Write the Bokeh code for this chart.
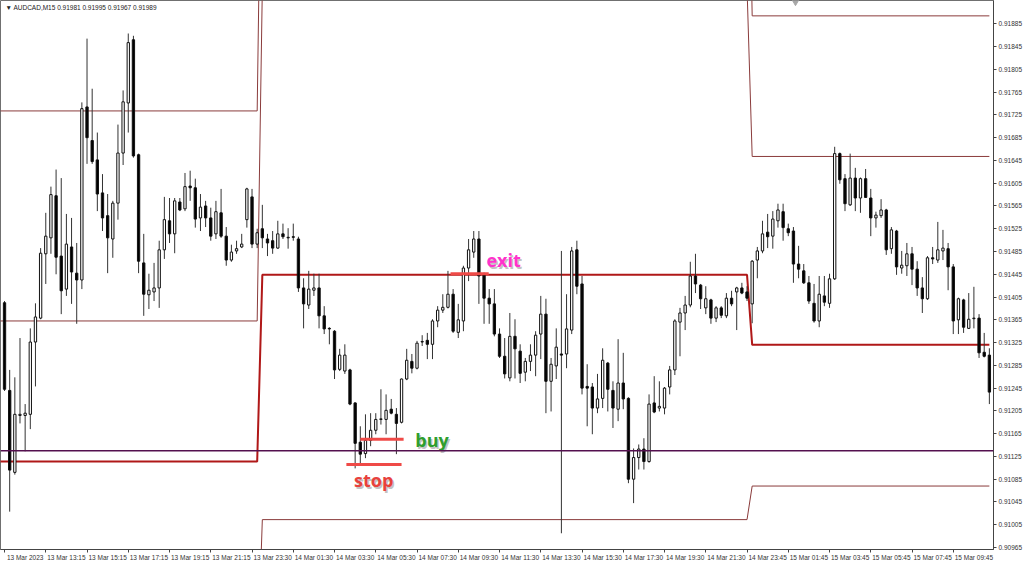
from bokeh.plotting import figure
from bokeh.models import FixedTicker, PrintfTickFormatter, Span, Range1d
from bokeh.embed import file_html
from bokeh.resources import INLINE
from bokeh.core.properties import value

# ---------------- data ----------------
header_text = "\u25BC AUDCAD,M15  0.91981 0.91995 0.91967 0.91989"

bar_open = [
    0.91395, 0.91241, 0.91097, 0.91197, 0.91197, 0.91199, 0.91326, 0.91368, 0.91481, 0.91509,
    0.91583, 0.91477, 0.91419, 0.91493, 0.91447, 0.91435, 0.91739, 0.91680, 0.91646, 0.91588,
    0.91548, 0.91507, 0.91570, 0.91658, 0.91746, 0.91857, 0.91655, 0.91465, 0.91409, 0.91414,
    0.91421, 0.91488, 0.91539, 0.91516, 0.91572, 0.91560, 0.91600, 0.91597, 0.91544, 0.91565,
    0.91544, 0.91516, 0.91553, 0.91512, 0.91470, 0.91486, 0.91493, 0.91541, 0.91581, 0.91498,
    0.91525, 0.91507, 0.91504, 0.91491, 0.91516, 0.91510, 0.91511, 0.91507, 0.91421, 0.91391,
    0.91417, 0.91421, 0.91372, 0.91350, 0.91345, 0.91278, 0.91275, 0.91277, 0.91219, 0.91150,
    0.91130, 0.91153, 0.91171, 0.91190, 0.91190, 0.91208, 0.91199, 0.91185, 0.91261, 0.91292,
    0.91280, 0.91326, 0.91329, 0.91322, 0.91363, 0.91382, 0.91387, 0.91410, 0.91343, 0.91363,
    0.91456, 0.91484, 0.91507, 0.91446, 0.91403, 0.91393, 0.91340, 0.91301, 0.91263, 0.91336,
    0.91310, 0.91273, 0.91292, 0.91303, 0.91340, 0.91375, 0.91257, 0.91284, 0.91305, 0.91305,
    0.91347, 0.91488, 0.91428, 0.91248, 0.91247, 0.91210, 0.91227, 0.91289, 0.91241, 0.91208,
    0.91254, 0.91227, 0.91085, 0.91123, 0.91138, 0.91116, 0.91219, 0.91210, 0.91210, 0.91247,
    0.91277, 0.91361, 0.91377, 0.91391, 0.91442, 0.91426, 0.91386, 0.91400, 0.91368, 0.91386,
    0.91372, 0.91403, 0.91414, 0.91421, 0.91414, 0.91393, 0.91470, 0.91486, 0.91519, 0.91512,
    0.91539, 0.91555, 0.91525, 0.91521, 0.91463, 0.91451, 0.91430, 0.91394, 0.91363, 0.91407,
    0.91394, 0.91437, 0.91657, 0.91613, 0.91567, 0.91614, 0.91579, 0.91613, 0.91579, 0.91544,
    0.91548, 0.91558, 0.91490, 0.91521, 0.91456, 0.91460, 0.91481, 0.91454, 0.91421, 0.91402,
    0.91474, 0.91470, 0.91486, 0.91490, 0.91458, 0.91365, 0.91400, 0.91350, 0.91367, 0.91368,
    0.91308, 0.91303,
]
bar_high = [
    0.91398, 0.91277, 0.91264, 0.91333, 0.91217, 0.91350, 0.91394, 0.91491, 0.91553, 0.91599,
    0.91629, 0.91614, 0.91551, 0.91544, 0.91500, 0.91747, 0.91859, 0.91771, 0.91694, 0.91621,
    0.91586, 0.91574, 0.91708, 0.91768, 0.91868, 0.91864, 0.91657, 0.91516, 0.91446, 0.91465,
    0.91504, 0.91581, 0.91579, 0.91579, 0.91579, 0.91623, 0.91627, 0.91613, 0.91586, 0.91574,
    0.91562, 0.91574, 0.91595, 0.91528, 0.91497, 0.91504, 0.91516, 0.91597, 0.91595, 0.91525,
    0.91567, 0.91516, 0.91521, 0.91539, 0.91534, 0.91526, 0.91534, 0.91511, 0.91438, 0.91451,
    0.91446, 0.91446, 0.91389, 0.91352, 0.91347, 0.91314, 0.91322, 0.91279, 0.91220, 0.91178,
    0.91199, 0.91201, 0.91201, 0.91243, 0.91234, 0.91226, 0.91210, 0.91262, 0.91314, 0.91305,
    0.91328, 0.91338, 0.91342, 0.91366, 0.91389, 0.91410, 0.91451, 0.91419, 0.91393, 0.91460,
    0.91507, 0.91521, 0.91521, 0.91448, 0.91419, 0.91419, 0.91350, 0.91333, 0.91377, 0.91366,
    0.91322, 0.91298, 0.91322, 0.91345, 0.91407, 0.91402, 0.91298, 0.91350, 0.91486, 0.91410,
    0.91493, 0.91504, 0.91442, 0.91287, 0.91254, 0.91270, 0.91315, 0.91291, 0.91257, 0.91331,
    0.91307, 0.91229, 0.91139, 0.91146, 0.91157, 0.91234, 0.91266, 0.91257, 0.91247, 0.91284,
    0.91366, 0.91386, 0.91407, 0.91467, 0.91481, 0.91428, 0.91424, 0.91402, 0.91389, 0.91389,
    0.91412, 0.91416, 0.91423, 0.91430, 0.91424, 0.91470, 0.91493, 0.91539, 0.91551, 0.91556,
    0.91569, 0.91569, 0.91534, 0.91528, 0.91495, 0.91463, 0.91442, 0.91428, 0.91442, 0.91442,
    0.91446, 0.91669, 0.91659, 0.91621, 0.91657, 0.91632, 0.91615, 0.91630, 0.91595, 0.91555,
    0.91577, 0.91560, 0.91528, 0.91523, 0.91486, 0.91500, 0.91493, 0.91468, 0.91440, 0.91477,
    0.91493, 0.91537, 0.91523, 0.91500, 0.91463, 0.91404, 0.91402, 0.91412, 0.91423, 0.91375,
    0.91342, 0.91315,
]
bar_low = [
    0.91240, 0.91028, 0.91093, 0.91183, 0.91134, 0.91173, 0.91248, 0.91366, 0.91428, 0.91481,
    0.91445, 0.91375, 0.91407, 0.91393, 0.91358, 0.91419, 0.91639, 0.91639, 0.91556, 0.91521,
    0.91447, 0.91474, 0.91541, 0.91637, 0.91694, 0.91650, 0.91447, 0.91372, 0.91384, 0.91398,
    0.91386, 0.91472, 0.91500, 0.91482, 0.91556, 0.91556, 0.91574, 0.91527, 0.91521, 0.91528,
    0.91504, 0.91507, 0.91509, 0.91460, 0.91467, 0.91481, 0.91491, 0.91527, 0.91491, 0.91491,
    0.91491, 0.91477, 0.91481, 0.91490, 0.91507, 0.91490, 0.91504, 0.91414, 0.91350, 0.91384,
    0.91407, 0.91350, 0.91340, 0.91322, 0.91261, 0.91275, 0.91270, 0.91215, 0.91104, 0.91111,
    0.91122, 0.91143, 0.91164, 0.91181, 0.91164, 0.91199, 0.91129, 0.91183, 0.91259, 0.91271,
    0.91278, 0.91319, 0.91296, 0.91296, 0.91352, 0.91377, 0.91385, 0.91342, 0.91333, 0.91345,
    0.91433, 0.91474, 0.91393, 0.91358, 0.91358, 0.91336, 0.91298, 0.91262, 0.91257, 0.91262,
    0.91254, 0.91257, 0.91275, 0.91266, 0.91296, 0.91201, 0.91204, 0.91261, 0.90990, 0.91280,
    0.91340, 0.91410, 0.91234, 0.91178, 0.91164, 0.91201, 0.91210, 0.91204, 0.91175, 0.91187,
    0.91208, 0.91078, 0.91043, 0.91102, 0.91102, 0.91114, 0.91201, 0.91204, 0.91199, 0.91234,
    0.91268, 0.91301, 0.91347, 0.91387, 0.91412, 0.91384, 0.91375, 0.91358, 0.91361, 0.91368,
    0.91368, 0.91389, 0.91347, 0.91410, 0.91398, 0.91359, 0.91438, 0.91482, 0.91491, 0.91490,
    0.91527, 0.91504, 0.91512, 0.91430, 0.91438, 0.91428, 0.91393, 0.91360, 0.91352, 0.91389,
    0.91386, 0.91435, 0.91604, 0.91556, 0.91565, 0.91556, 0.91553, 0.91579, 0.91512, 0.91527,
    0.91544, 0.91479, 0.91481, 0.91444, 0.91446, 0.91442, 0.91426, 0.91407, 0.91377, 0.91400,
    0.91463, 0.91465, 0.91470, 0.91417, 0.91340, 0.91340, 0.91342, 0.91349, 0.91350, 0.91298,
    0.91299, 0.91217,
]
bar_close = [
    0.91243, 0.91101, 0.91199, 0.91199, 0.91201, 0.91326, 0.91370, 0.91482, 0.91512, 0.91585,
    0.91475, 0.91416, 0.91498, 0.91449, 0.91435, 0.91736, 0.91685, 0.91643, 0.91586, 0.91544,
    0.91509, 0.91570, 0.91658, 0.91748, 0.91852, 0.91653, 0.91468, 0.91410, 0.91417, 0.91421,
    0.91488, 0.91541, 0.91516, 0.91574, 0.91558, 0.91599, 0.91597, 0.91542, 0.91563, 0.91544,
    0.91512, 0.91555, 0.91512, 0.91470, 0.91484, 0.91490, 0.91498, 0.91595, 0.91498, 0.91518,
    0.91509, 0.91500, 0.91491, 0.91516, 0.91511, 0.91509, 0.91510, 0.91421, 0.91393, 0.91419,
    0.91421, 0.91372, 0.91349, 0.91349, 0.91277, 0.91303, 0.91303, 0.91217, 0.91148, 0.91129,
    0.91153, 0.91171, 0.91190, 0.91191, 0.91206, 0.91201, 0.91183, 0.91261, 0.91294, 0.91280,
    0.91324, 0.91327, 0.91322, 0.91363, 0.91382, 0.91387, 0.91410, 0.91345, 0.91365, 0.91456,
    0.91488, 0.91507, 0.91442, 0.91403, 0.91393, 0.91340, 0.91301, 0.91270, 0.91336, 0.91314,
    0.91271, 0.91292, 0.91303, 0.91338, 0.91375, 0.91257, 0.91287, 0.91317, 0.91303, 0.91349,
    0.91486, 0.91424, 0.91245, 0.91245, 0.91210, 0.91226, 0.91294, 0.91243, 0.91210, 0.91254,
    0.91226, 0.91085, 0.91123, 0.91138, 0.91116, 0.91217, 0.91203, 0.91213, 0.91245, 0.91277,
    0.91363, 0.91377, 0.91391, 0.91442, 0.91428, 0.91402, 0.91402, 0.91368, 0.91386, 0.91373,
    0.91403, 0.91393, 0.91421, 0.91412, 0.91403, 0.91468, 0.91486, 0.91516, 0.91511, 0.91542,
    0.91558, 0.91527, 0.91518, 0.91463, 0.91454, 0.91430, 0.91398, 0.91363, 0.91410, 0.91396,
    0.91437, 0.91657, 0.91611, 0.91569, 0.91614, 0.91579, 0.91613, 0.91580, 0.91544, 0.91549,
    0.91558, 0.91488, 0.91523, 0.91458, 0.91461, 0.91481, 0.91454, 0.91421, 0.91402, 0.91474,
    0.91472, 0.91488, 0.91491, 0.91458, 0.91363, 0.91402, 0.91352, 0.91366, 0.91368, 0.91307,
    0.91301, 0.91238,
]

time_tick_bars = [0, 8, 16, 24, 32, 40, 48, 56, 64, 72, 80, 88, 96, 104, 112, 120,
                  128, 136, 144, 152, 160, 168, 176, 184]
time_tick_labels = [
    "13 Mar 2023", "13 Mar 13:15", "13 Mar 15:15", "13 Mar 17:15", "13 Mar 19:15",
    "13 Mar 21:15", "13 Mar 23:30", "14 Mar 01:30", "14 Mar 03:30", "14 Mar 05:30",
    "14 Mar 07:30", "14 Mar 09:30", "14 Mar 11:30", "14 Mar 13:30", "14 Mar 15:30",
    "14 Mar 17:30", "14 Mar 19:30", "14 Mar 21:30", "14 Mar 23:45", "15 Mar 01:45",
    "15 Mar 03:45", "15 Mar 05:45", "15 Mar 07:45", "15 Mar 09:45",
]
price_ticks = [
    0.90965, 0.91005, 0.91045, 0.91085, 0.91125, 0.91165, 0.91205, 0.91245,
    0.91285, 0.91325, 0.91365, 0.91405, 0.91445, 0.91485, 0.91525, 0.91565,
    0.91605, 0.91645, 0.91685, 0.91725, 0.91765, 0.91805, 0.91845, 0.91885,
]

# daily pivot levels (13, 14, 15 Mar) and the first bar of each day
day_first_bar = [0, 50, 145]
pivot_R2 = [0.91732, 0.92378, 0.91899]
pivot_R1 = [0.91363, 0.91948, 0.91652]
pivot_P = [0.91116, 0.91444, 0.91321]
pivot_S1 = [0.90747, 0.91014, 0.91073]
pivot_S2 = [0.90500, 0.90510, 0.90743]

hline_price = 0.91135
shift_marker_bar = 153.4

# trade annotations: (bar_from, bar_to, price)
exit_mark = (86.5, 93.9, 0.91446)
buy_mark = (69.0, 77.4, 0.91155)
stop_mark = (66.3, 77.0, 0.91111)

# ---------------- figure ----------------
n_bars = len(bar_open)
idx = list(range(n_bars))

W, H = 1024, 563
Y_TOP = 0.91926
p = figure(width=W, height=H, output_backend="svg", toolbar_location=None,
           x_range=Range1d(-0.78, 191.8), y_range=Range1d(0.909615, Y_TOP),
           y_axis_location="right",
           min_border_left=0, min_border_top=0, min_border_right=0, min_border_bottom=0)
p.grid.visible = False
p.background_fill_color = "white"
p.border_fill_color = "white"
p.outline_line_color = "#707070"
p.outline_line_width = 1

AX_FONT = "Liberation Sans"
AX_SIZE = "6.5px"

ya = p.yaxis[0]
ya.ticker = FixedTicker(ticks=price_ticks)
ya.formatter = PrintfTickFormatter(format="%.5f")
ya.major_label_text_font = AX_FONT
ya.major_label_text_font_size = AX_SIZE
ya.major_label_text_color = "#333333"
ya.major_tick_out = 3
ya.major_tick_in = 0
ya.minor_tick_line_color = None
ya.axis_line_color = "#444444"
ya.major_tick_line_color = "#444444"
ya.major_label_standoff = 2

label_shift = 4
xa = p.xaxis[0]
xa.ticker = FixedTicker(ticks=[b + label_shift for b in time_tick_bars], minor_ticks=time_tick_bars)
xa.major_label_overrides = {b + label_shift: lab for b, lab in zip(time_tick_bars, time_tick_labels)}
xa.major_label_text_font = AX_FONT
xa.major_label_text_font_size = AX_SIZE
xa.major_label_text_color = "#333333"
xa.major_tick_line_color = None
xa.major_tick_out = 3
xa.major_tick_in = 0
xa.minor_tick_out = 3
xa.minor_tick_in = 0
xa.minor_tick_line_color = "#444444"
xa.axis_line_color = "#444444"
xa.major_label_standoff = 1

# pivot lines (step per day, joined bar-to-bar)
def day_path(levels):
    xs, ys = [], []
    for d, lvl in enumerate(levels):
        start = day_first_bar[d] if d > 0 else -1
        end = day_first_bar[d + 1] - 1 if d + 1 < len(levels) else n_bars - 1
        xs += [start, end]
        ys += [lvl, lvl]
    return xs, ys

for lv in (pivot_R2, pivot_R1, pivot_S1, pivot_S2):
    xs, ys = day_path(lv)
    p.line(xs, ys, line_color="#8a3b3b", line_width=1)
xs, ys = day_path(pivot_P)
p.line(xs, ys, line_color="#b01818", line_width=2)

p.add_layout(Span(location=hline_price, dimension="width", line_color="#54104f", line_width=1.5))

# candles
tops = [max(o, c) for o, c in zip(bar_open, bar_close)]
bots = [min(o, c) for o, c in zip(bar_open, bar_close)]
fills = ["white" if c >= o else "black" for o, c in zip(bar_open, bar_close)]
p.segment(x0=idx, y0=bar_low, x1=idx, y1=bar_high, line_color="#333333", line_width=1)
p.vbar(x=idx, width=0.45, top=tops, bottom=bots, fill_color=fills,
       line_color="#111111", line_width=1)

# chart-shift marker at the top edge
p.scatter(x=[shift_marker_bar], y=[Y_TOP], marker="inverted_triangle", size=9,
          fill_color="#a8a8a8", line_color="#a8a8a8")

# trade annotations
mark_red = "#ef4a47"
for x0, x1, y in (exit_mark, buy_mark, stop_mark):
    p.line([x0, x1], [y, y], line_color=mark_red, line_width=3)

def tag(x, y, txt, color):
    p.text(x=[x], y=[y], text=[txt], x_offset=1.5, y_offset=1.5,
           text_font=value("Open Sans"), text_font_style="bold", text_font_size="18px",
           text_color="#9a9a9a", text_alpha=0.6, text_align="center", text_baseline="middle")
    p.text(x=[x], y=[y], text=[txt],
           text_font=value("Open Sans"), text_font_style="bold", text_font_size="18px",
           text_color=color, text_align="center", text_baseline="middle")

tag(96.8, 0.91470, "exit", "#ff33cc")
tag(82.9, 0.91153, "buy", "#2e9e2e")
tag(71.6, 0.91083, "stop", "#e8413c")

# header
p.text(x=[0.2], y=[0.91914], text=[header_text], text_font=value(AX_FONT),
       text_font_size="6.5px", text_color="#222222", text_align="left", text_baseline="middle")

open("out.html", "w").write(file_html(p, INLINE))
